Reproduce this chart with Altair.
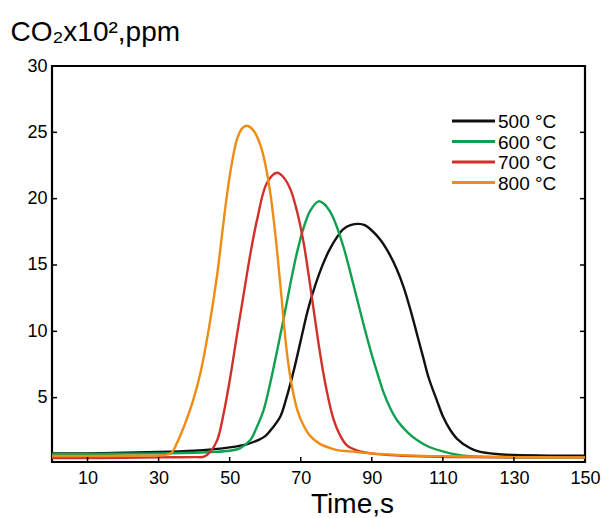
import altair as alt
import pandas as pd

# ---- data ----
t500 = [0, 10, 20, 30, 40, 45, 50, 55, 58, 60, 62, 64.3, 66, 68, 70, 72, 74, 76, 78, 80.2, 82, 84, 86.3, 88, 90,
        92.4, 95, 97, 99, 101, 103, 104.5, 106, 108.3, 110, 112, 114, 117.6, 120, 125, 130, 140, 150]
v500 = [0.8, 0.8, 0.85, 0.9, 1.0, 1.1, 1.25, 1.5, 1.8, 2.1, 2.7, 3.6, 5.0, 7.0, 9.3, 11.6, 13.4, 14.9, 16.1, 17.1,
        17.7, 18.0, 18.1, 18.0, 17.6, 16.9, 15.8, 14.7, 13.3, 11.5, 9.5, 8.0, 6.5, 4.8, 3.6, 2.6, 1.9, 1.2, 0.95,
        0.75, 0.68, 0.63, 0.62]

t600 = [0, 10, 20, 30, 40, 45, 50, 53, 55.8, 57.5, 59.6, 61.5, 63.4, 65.3, 67.1, 69, 70.8, 72.7, 75, 76.6, 78.3,
        80, 82.1, 83.9, 85.8, 87.7, 89.6, 91.5, 93.3, 95.2, 97.1, 100, 102.7, 106, 110.2, 114, 117.6, 125, 150]
v600 = [0.75, 0.75, 0.78, 0.8, 0.85, 0.9, 1.0, 1.2, 1.8, 2.7, 4.1, 6.2, 8.6, 11.1, 13.6, 16.0, 17.8, 19.1, 19.8,
        19.6, 19.0, 18.0, 16.3, 14.5, 12.5, 10.5, 8.6, 6.9, 5.4, 4.2, 3.3, 2.4, 1.8, 1.3, 0.93, 0.7, 0.58, 0.52, 0.5]

t700 = [0, 10, 20, 30, 40, 42.8, 44.5, 46.5, 48.3, 50.2, 52.1, 54, 55.8, 57.7, 60.5, 63.3, 65.2, 67.1, 69, 70.8,
        72.2, 73.6, 75, 76.4, 77.8, 79.2, 81, 83, 86, 89.6, 95, 103.6, 115, 130, 150]
v700 = [0.45, 0.45, 0.47, 0.5, 0.52, 0.55, 0.9, 1.8, 3.8, 6.6, 9.8, 12.9, 15.8, 18.4, 21.2, 21.95, 21.6, 20.7,
        19.0, 16.7, 14.3, 11.7, 9.1, 6.8, 4.9, 3.4, 2.2, 1.4, 1.0, 0.8, 0.68, 0.58, 0.52, 0.5, 0.5]

t800 = [0, 10, 20, 30, 33.4, 35.2, 37.1, 39.5, 41.8, 44.2, 46.5, 47.9, 49.3, 50.7, 52.1, 53.5, 54.9, 56.8, 58.7,
        60.1, 61.5, 62.9, 64.3, 66.1, 67.5, 69, 70.8, 72.7, 75.5, 78.3, 80.2, 84, 89.6, 100, 110, 130, 150]
v800 = [0.6, 0.6, 0.62, 0.65, 0.8, 1.6, 2.8, 4.6, 6.9, 10.3, 14.3, 17.4, 20.4, 22.8, 24.5, 25.3, 25.5, 25.1, 24.0,
        22.5, 20.3, 17.2, 13.4, 8.4, 5.9, 4.1, 2.9, 2.1, 1.5, 1.2, 1.05, 0.95, 0.8, 0.65, 0.58, 0.52, 0.5]

series_names = ["500 °C", "600 °C", "700 °C", "800 °C"]
series_colors = ["#111111", "#10a050", "#d2302a", "#ee8c14"]
x_labels = [10, 30, 50, 70, 90, 110, 130, 150]
x_ticks = [10, 30, 50, 70, 90, 110, 130]
y_ticks = [5, 10, 15, 20, 25, 30]

rows = []
for name, ts, vs in zip(series_names, [t500, t600, t700, t800], [v500, v600, v700, v800]):
    for t, v in zip(ts, vs):
        rows.append({"time": t, "co2": v, "series": name})
df = pd.DataFrame(rows)

W, H = 533, 396
FONT = "Liberation Sans"

xscale = alt.Scale(domain=[0, 150], nice=False, zero=False)
yscale = alt.Scale(domain=[0.15, 30], nice=False, zero=False)
cscale = alt.Scale(domain=series_names, range=series_colors)

xaxis = alt.Axis(values=x_labels, title="Time,s", domain=False, ticks=False, grid=False,
                 labelFontSize=18, labelPadding=7, labelColor="black", labelFont=FONT,
                 labelOverlap=False, labelBound=False, labelFlush=False,
                 titleFontSize=28, titleFont=FONT, titleFontWeight="normal", titleColor="black",
                 titleX=300, titleY=50, titleBaseline="alphabetic", titleAlign="center")
yaxis = alt.Axis(values=y_ticks, title="CO₂x10²,ppm", domain=False, ticks=False, grid=False,
                 labelFontSize=18, labelPadding=5, labelColor="black", labelFont=FONT,
                 labelOverlap=False, labelFlush=False,
                 titleFontSize=28, titleFont=FONT, titleFontWeight="normal", titleColor="black",
                 titleAngle=0, titleAlign="left", titleBaseline="alphabetic",
                 titleX=-42, titleY=-26)

lines = alt.Chart(df).mark_line(strokeWidth=2.4, interpolate="catmull-rom").encode(
    x=alt.X("time:Q", scale=xscale, axis=xaxis),
    y=alt.Y("co2:Q", scale=yscale, axis=yaxis),
    color=alt.Color("series:N", scale=cscale, legend=None),
    order=alt.Order("time:Q"),
)

xt = pd.DataFrame({"time": x_ticks})
yt = pd.DataFrame({"co2": y_ticks[:-1]})

bottom_ticks = alt.Chart(xt).mark_rule(color="black", strokeWidth=1.5).encode(
    x=alt.X("time:Q", scale=xscale, axis=xaxis), y=alt.value(H), y2=alt.value(H - 5))
left_ticks = alt.Chart(yt).mark_rule(color="black", strokeWidth=1.5).encode(
    y=alt.Y("co2:Q", scale=yscale, axis=yaxis), x=alt.value(0), x2=alt.value(5))
right_ticks = alt.Chart(yt).mark_rule(color="black", strokeWidth=1.5).encode(
    y=alt.Y("co2:Q", scale=yscale, axis=yaxis), x=alt.value(W), x2=alt.value(W - 5))

# manual legend (top right, inside the frame)
leg = pd.DataFrame({"series": series_names, "idx": list(range(len(series_names)))})
leg_base = alt.Chart(leg).transform_calculate(ly="55 + datum.idx * 20.5")
leg_lines = leg_base.mark_rule(strokeWidth=3).encode(
    x=alt.value(400), x2=alt.value(443),
    y=alt.Y("ly:Q", scale=None),
    color=alt.Color("series:N", scale=cscale, legend=None),
)
leg_text = leg_base.mark_text(align="left", baseline="middle", fontSize=19, font=FONT,
                              color="black", dy=1).encode(
    x=alt.value(446),
    y=alt.Y("ly:Q", scale=None),
    text="series:N",
)

chart = alt.layer(lines, bottom_ticks, left_ticks, right_ticks, leg_lines, leg_text).properties(
    width=W, height=H,
    autosize=alt.AutoSizeParams(type="none"),
    padding={"left": 52, "top": 66, "right": 18, "bottom": 56},
    background="white",
).configure_view(stroke="black", strokeWidth=2.2)

chart.save("out.html", embed_options={"renderer": "svg", "actions": False})
